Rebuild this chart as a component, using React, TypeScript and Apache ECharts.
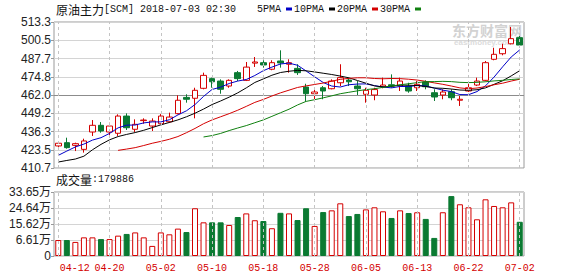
import React, { useEffect, useRef } from 'react';
import * as echarts from 'echarts';

const dates = [
  '04-12', '04-13', '04-16', '04-17', '04-18', '04-19', '04-20', '04-23', '04-24', '04-25',
  '04-26', '04-27', '05-02', '05-03', '05-04', '05-07', '05-08', '05-09', '05-10', '05-11',
  '05-14', '05-15', '05-16', '05-17', '05-18', '05-21', '05-22', '05-23', '05-24', '05-25',
  '05-28', '05-29', '05-30', '05-31', '06-01', '06-04', '06-05', '06-06', '06-07', '06-08',
  '06-11', '06-12', '06-13', '06-14', '06-15', '06-19', '06-20', '06-21', '06-22', '06-25',
  '06-26', '06-27', '06-28', '06-29', '07-02',
];

const opens = [
  426.2, 428.5, 426.6, 423.8, 436.0, 440.7, 436.0, 435.1, 447.2, 437.9,
  444.0, 440.2, 441.8, 443.2, 448.9, 460.3, 459.7, 466.7, 473.5, 471.8,
  468.3, 477.7, 472.3, 484.4, 484.7, 480.1, 485.9, 483.6, 480.7, 467.6,
  462.9, 467.1, 466.4, 470.6, 472.5, 468.3, 462.5, 462.0, 467.8, 469.2,
  468.3, 468.3, 467.1, 471.1, 463.6, 462.0, 464.3, 458.3, 464.8, 469.0,
  472.3, 487.1, 491.0, 498.0, 502.3,
];
const closes = [
  428.1, 425.0, 427.8, 429.7, 440.7, 436.7, 440.2, 447.2, 439.0, 441.4,
  444.4, 443.7, 447.2, 446.5, 458.3, 459.0, 465.3, 475.8, 471.3, 466.0,
  472.3, 473.5, 481.6, 485.2, 483.1, 484.7, 484.5, 484.7, 477.7, 462.9,
  464.1, 464.8, 471.8, 474.2, 471.3, 466.4, 465.3, 465.8, 469.0, 468.3,
  471.8, 464.8, 469.5, 467.8, 460.6, 464.1, 460.1, 459.0, 467.1, 471.8,
  484.7, 490.6, 494.6, 501.6, 497.1,
];
const lows = [
  425.5, 424.3, 422.6, 421.5, 433.2, 435.5, 433.2, 433.2, 437.4, 436.0,
  441.8, 436.7, 441.6, 442.5, 448.4, 456.6, 445.6, 466.0, 467.1, 462.9,
  467.1, 471.8, 471.8, 481.7, 481.2, 479.4, 481.2, 477.7, 476.1, 457.3,
  459.0, 459.0, 466.0, 468.3, 468.3, 462.0, 456.6, 458.3, 466.7, 467.1,
  464.8, 463.6, 464.8, 466.0, 457.8, 459.0, 458.3, 454.3, 464.1, 468.3,
  471.6, 486.4, 489.9, 497.6, 496.4,
];
const highs = [
  429.0, 432.0, 428.5, 431.3, 444.4, 443.0, 442.5, 448.4, 449.1, 444.9,
  445.6, 445.6, 448.6, 449.6, 461.8, 462.5, 467.1, 477.7, 474.2, 473.0,
  473.0, 478.9, 485.2, 488.7, 486.4, 486.4, 493.4, 487.1, 483.6, 469.9,
  466.7, 468.3, 473.0, 483.6, 474.2, 471.8, 467.1, 467.1, 474.2, 476.5,
  474.2, 470.6, 471.8, 472.3, 466.0, 466.0, 466.0, 461.3, 471.8, 474.2,
  485.9, 495.2, 498.0, 509.8, 505.1,
];

// volume, in 万 (10k lots)
const volumes = [
  8.4, 8.4, 7.4, 9.8, 9.8, 8.9, 8.9, 10.7, 11.6, 12.4,
  9.8, 5.3, 12.4, 11.4, 14.4, 12.6, 25.1, 17.7, 17.7, 17.7,
  16.3, 20.5, 22.4, 18.8, 18.4, 14.6, 22.7, 22.4, 18.9, 25.1,
  15.8, 23.1, 24.0, 27.7, 21.0, 22.1, 24.5, 25.6, 23.5, 20.0,
  24.0, 22.6, 23.0, 19.5, 9.5, 23.0, 31.5, 27.2, 25.6, 19.3,
  29.8, 26.3, 25.6, 28.2, 17.99,
];

const ma5 = [
  419.6, 422.6, 425.5, 427.5, 430.3, 432.0, 435.0, 438.9, 440.8, 440.9,
  442.4, 443.1, 443.1, 444.6, 448.0, 450.9, 455.3, 461.0, 465.9, 467.5,
  470.1, 471.8, 472.9, 475.7, 479.1, 481.6, 483.8, 484.4, 482.9, 478.9,
  474.8, 470.8, 468.3, 467.6, 469.2, 469.7, 469.8, 468.6, 467.6, 467.0,
  468.0, 467.9, 468.7, 468.4, 466.9, 465.4, 464.4, 462.3, 462.2, 464.4,
  468.5, 474.6, 481.8, 488.7, 493.7,
];
const ma10 = [
  414.9, 416.0, 417.0, 419.0, 423.5, 427.3, 430.5, 432.8, 434.3, 435.6,
  437.2, 439.1, 441.0, 442.7, 444.5, 446.7, 449.2, 452.1, 455.3, 457.8,
  460.5, 463.5, 467.0, 470.8, 473.3, 475.9, 477.8, 478.7, 479.3, 479.0,
  478.2, 477.3, 476.4, 475.3, 474.1, 472.2, 470.3, 468.4, 467.6, 468.1,
  468.9, 468.9, 468.6, 468.0, 466.9, 466.7, 466.2, 465.5, 465.3, 465.7,
  467.0, 469.5, 472.0, 475.4, 479.1,
];
const ma20 = [
  null, null, null, null, null, null, null, 423.1, 424.0, 425.0,
  426.5, 428.1, 429.4, 430.9, 432.8, 435.5, 438.5, 441.8, 444.5, 446.7,
  448.9, 451.3, 454.0, 456.8, 458.9, 461.3, 463.5, 465.4, 467.3, 468.4,
  469.4, 470.4, 471.7, 473.0, 473.7, 474.1, 474.1, 473.6, 473.4, 473.6,
  473.5, 473.1, 472.5, 471.6, 470.5, 469.5, 468.3, 467.0, 466.4, 466.9,
  467.9, 469.2, 470.3, 471.8, 473.1,
];
const ma30 = [
  null, null, null, null, null, null, null, null, null, null,
  null, null, null, null, null, null, null, 432.5, 433.5, 435.0,
  437.0, 438.8, 440.5, 442.5, 444.5, 447.0, 449.5, 452.0, 455.0, 457.5,
  458.7, 460.0, 461.4, 462.9, 463.9, 464.9, 465.8, 466.4, 467.4, 468.3,
  469.2, 469.9, 470.7, 471.4, 471.4, 471.6, 471.4, 470.9, 470.7, 470.9,
  471.3, 471.9, 472.3, 472.9, 473.3,
];

const priceTicks = ['410.7', '423.5', '436.3', '449.2', '462.0', '474.8', '487.7', '500.5', '513.3'];
const volumeTicks = ['0', '6.61万', '15.62万', '24.64万', '33.65万'];
const priceMin = 410.7;
const priceMax = 513.3;
const volumeMax = 33.65;
const lastVolume = '179886';

const UP = '#d40000';
const DOWN = '#0b7a32';
const GRID_LINE = '#d4d4d4';
const MONO = '"Liberation Mono", "DejaVu Sans Mono", monospace';
const SANS = '"Liberation Sans", "Noto Sans CJK SC", sans-serif';
const CJK = '"Noto Sans CJK SC", sans-serif';

export default function App() {
  const ref = useRef<HTMLDivElement>(null);

  useEffect(() => {
    if (!ref.current) return;
    const chart = echarts.init(ref.current, undefined, { renderer: 'svg' });

    const candleData = dates.map((_, i) => [opens[i], closes[i], lows[i], highs[i]]);
    const volumeData = volumes.map((v, i) => {
      const up = closes[i] >= opens[i];
      return {
        value: v,
        itemStyle: {
          color: up ? '#ffffff' : DOWN,
          borderColor: up ? UP : DOWN,
          borderWidth: 1,
        },
      };
    });
    const vLines = dates
      .filter((_, i) => i % 6 === 0)
      .map((d) => ({ xAxis: d }));
    const markLine = {
      silent: true,
      symbol: ['none', 'none'],
      label: { show: false },
      lineStyle: { color: '#c4c4c4', type: [3, 3], width: 1 },
      data: vLines,
      animation: false,
    };

    const priceSplitColors = priceTicks.map((t) => (t === '462.0' ? '#8c8c8c' : GRID_LINE));

    const maSeries = [
      { name: '5PMA', data: ma5, color: '#0000c8' },
      { name: '10PMA', data: ma10, color: '#000000' },
      { name: '20PMA', data: ma20, color: '#d40000' },
      { name: '30PMA', data: ma30, color: '#108010' },
    ].map((s) => ({
      name: s.name,
      type: 'line',
      xAxisIndex: 0,
      yAxisIndex: 0,
      data: s.data,
      showSymbol: false,
      symbol: 'none',
      smooth: false,
      color: s.color,
      itemStyle: { color: s.color },
      lineStyle: { color: s.color, width: 1 },
      z: 3,
      silent: true,
    }));

    const titleRich = {
      c: { fontFamily: CJK, fontSize: 12, fontWeight: 'normal', color: '#111', verticalAlign: 'middle' },
      m: { fontFamily: MONO, fontSize: 10, fontWeight: 'normal', color: '#111', verticalAlign: 'middle' },
    };

    chart.setOption({
      animation: false,
      backgroundColor: '#ffffff',
      title: [
        {
          text: '{c|原油主力}{m|[SCM] 2018-07-03 02:30}',
          left: 56,
          top: 3,
          padding: 0,
          textStyle: { fontWeight: 'normal', rich: titleRich },
        },
        {
          text: '{c|成交量}{m|:' + lastVolume + '}',
          left: 56,
          top: 173,
          padding: 0,
          textStyle: { fontWeight: 'normal', rich: titleRich },
        },
      ],
      legend: {
        data: ['5PMA', '10PMA', '20PMA', '30PMA'],
        left: 257,
        top: 4,
        padding: 0,
        align: 'right',
        icon: 'rect',
        itemWidth: 6,
        itemHeight: 3,
        itemGap: 2,
        selectedMode: false,
        textStyle: { fontFamily: MONO, fontSize: 10, color: '#111', padding: [0, 0, 0, 0] },
      },
      graphic: [
        {
          type: 'text',
          left: 452,
          top: 22,
          z: 1,
          silent: true,
          style: {
            text: '东方财富网',
            fontFamily: CJK,
            fontSize: 14,
            lineHeight: 15,
            fontWeight: 'bold',
            fill: '#d2d2d2',
          },
        },
        {
          type: 'text',
          left: 454,
          top: 38,
          z: 1,
          silent: true,
          style: {
            text: 'eastmoney.com',
            fontFamily: SANS,
            fontSize: 8,
            lineHeight: 9,
            fontWeight: 'bold',
            fill: '#dcdcdc',
          },
        },
      ],
      grid: [
        { left: 54, top: 22, width: 470, height: 146, show: true, borderColor: '#9a9a9a', borderWidth: 1, backgroundColor: 'transparent' },
        { left: 54, top: 192, width: 470, height: 64, show: true, borderColor: '#9a9a9a', borderWidth: 1, backgroundColor: 'transparent' },
      ],
      xAxis: [
        {
          type: 'category',
          gridIndex: 0,
          data: dates,
          boundaryGap: true,
          axisLine: { show: false },
          axisTick: { show: false },
          axisLabel: { show: false },
          splitLine: { show: false },
        },
        {
          type: 'category',
          gridIndex: 1,
          data: dates,
          boundaryGap: true,
          axisLine: { show: false },
          axisTick: { show: false },
          splitLine: { show: false },
          axisLabel: {
            interval: (index: number) => index % 6 === 0,
            formatter: (value: string, index: number) => (index === 0 ? '{f|' + value + '}' : value),
            color: UP,
            fontFamily: MONO,
            fontSize: 10,
            margin: 7,
            rich: {
              f: { padding: [0, 0, 0, 33], color: UP, fontFamily: MONO, fontSize: 10 },
            },
          },
        },
      ],
      yAxis: [
        {
          type: 'value',
          gridIndex: 0,
          min: priceMin,
          max: priceMax,
          interval: (priceMax - priceMin) / 8,
          axisLine: { show: false },
          axisTick: { show: true, length: 3, lineStyle: { color: '#9a9a9a' } },
          axisLabel: {
            formatter: (_v: number, index: number) => priceTicks[index] ?? '',
            color: '#222',
            fontFamily: SANS,
            fontSize: 12,
            margin: 3,
          },
          splitLine: { show: true, lineStyle: { color: priceSplitColors, width: 1, type: 'solid' } },
        },
        {
          type: 'value',
          gridIndex: 1,
          min: 0,
          max: volumeMax,
          interval: volumeMax / 4,
          axisLine: { show: false },
          axisTick: { show: true, length: 3, lineStyle: { color: '#9a9a9a' } },
          axisLabel: {
            formatter: (_v: number, index: number) => volumeTicks[index] ?? '',
            color: '#222',
            fontFamily: SANS,
            fontSize: 12,
            margin: 3,
          },
          splitLine: { show: true, lineStyle: { color: GRID_LINE, width: 1 } },
        },
      ],
      series: [
        {
          name: 'K',
          type: 'candlestick',
          xAxisIndex: 0,
          yAxisIndex: 0,
          data: candleData,
          barWidth: 6,
          silent: true,
          itemStyle: {
            color: '#ffffff',
            color0: DOWN,
            borderColor: UP,
            borderColor0: DOWN,
            borderWidth: 1,
          },
          markLine,
          z: 2,
        },
        ...maSeries,
        {
          name: 'VOL',
          type: 'bar',
          xAxisIndex: 1,
          yAxisIndex: 1,
          data: volumeData,
          barWidth: 6,
          silent: true,
          markLine,
          z: 2,
        },
      ],
    });

    return () => chart.dispose();
  }, []);

  return (
    <div
      ref={ref}
      style={{ position: 'fixed', left: 0, top: 0, width: 578, height: 276, background: '#fff' }}
    />
  );
}
